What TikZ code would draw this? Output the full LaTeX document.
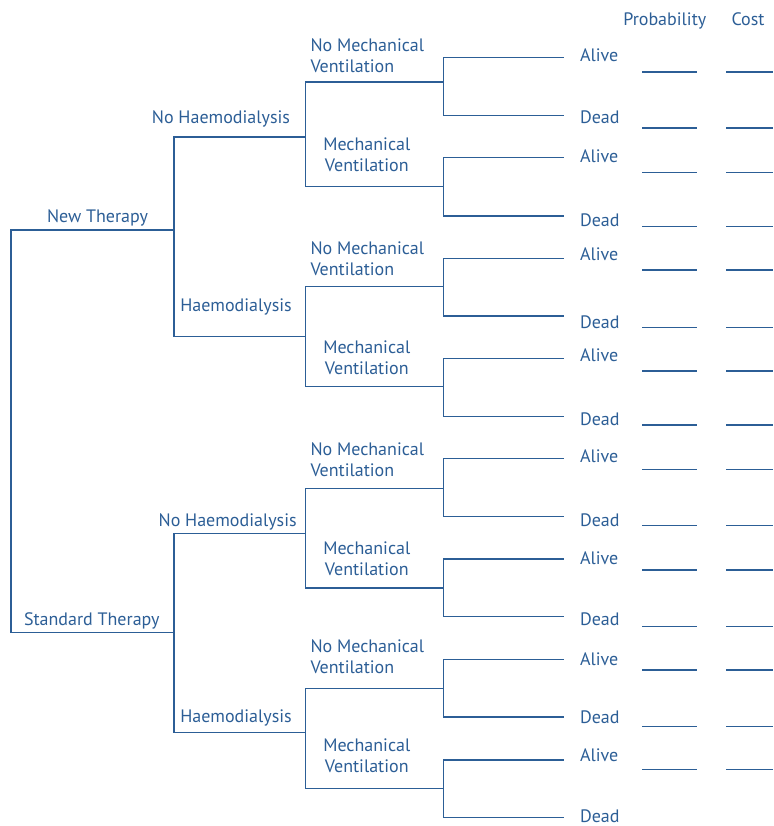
\documentclass[tikz,border=0pt]{standalone}
\usepackage{fontspec}
\setmainfont{PT Sans}
\definecolor{treeblue}{RGB}{44,94,150}
\begin{document}
\begin{tikzpicture}[x=1pt,y=-1pt,
  branch/.style={draw=treeblue,line width=1.4pt,line cap=rect},
  blank/.style={draw=treeblue,line width=1.4pt},
  lbl/.style={text=treeblue,font=\fontsize{18}{21}\selectfont,inner sep=0pt,outer sep=0pt}]
\useasboundingbox (0,0) rectangle (773,826);

% ---- root split: therapy choice ----
\coordinate (root-t) at (11,230);
\coordinate (root-b) at (11,632.5);
\coordinate (nt) at (174,230);
\coordinate (st) at (174,632.5);
\draw[branch] (nt) -- (root-t) -- (root-b) -- (st);
\node[lbl,anchor=base west] (ntlbl) at (47,222.3) {New Therapy};
\node[lbl,anchor=base west] (stlbl) at (24,625) {Standard Therapy};

% ---- haemodialysis splits ----
\foreach \t/\up/\dn in {nt/137/336.7, st/533.3/732.7}{
  \coordinate (\t-up) at (174,\up);
  \coordinate (\t-dn) at (174,\dn);
  \coordinate (\t-noh) at (305.5,\up);
  \coordinate (\t-h) at (305.5,\dn);
  \draw[branch] (\t-up) -- (\t-dn);
  \draw[branch] (\t-up) -- (\t-noh);
  \draw[branch] (\t-dn) -- (\t-h);
}
\node[lbl,anchor=base east] (ntnoh) at (290,123.5) {No Haemodialysis};
\node[lbl,anchor=base west] (nth) at (180.3,311.7) {Haemodialysis};
\node[lbl,anchor=base east] (stnoh) at (296.7,526) {No Haemodialysis};
\node[lbl,anchor=base west] (sth) at (180.3,722.7) {Haemodialysis};

% ---- ventilation splits ----
\foreach \p/\i/\j/\a/\b in {nt-noh/1/2/82/186.5, nt-h/3/4/286.7/386.7,
                           st-noh/5/6/488.5/588, st-h/7/8/688.3/788.3}{
  \coordinate (v\i-l) at (305.5,\a);
  \coordinate (v\j-l) at (305.5,\b);
  \coordinate (v\i) at (443.3,\a);
  \coordinate (v\j) at (443.3,\b);
  \draw[branch] (v\i-l) -- (v\j-l);
  \draw[branch] (v\i-l) -- (v\i);
  \draw[branch] (v\j-l) -- (v\j);
}
\foreach \i/\top in {1/38.3, 3/241.5, 5/442.5, 7/639.8}{
  \node[lbl,anchor=north west,align=left] (vl\i) at (310.5,\top)
    {No Mechanical\\Ventilation};
}
\foreach \i/\top in {2/137.5, 4/340.5, 6/541.5, 8/738.5}{
  \node[lbl,anchor=north,align=center] (vl\i) at (366.8,\top)
    {Mechanical\\Ventilation};
}

% ---- outcome branches ----
\foreach \i/\a/\d/\ab/\db in {1/57.3/115.7/61.7/123.3, 2/157.3/216/162.3/226.7,
    3/258.3/316/260/328, 4/358.3/416.5/361.7/425, 5/458.3/516.7/462.3/526.7,
    6/559/616.7/564/625, 7/659.3/717/665/723.3, 8/760/817.5/761.7/822.8}{
  \coordinate (v\i-a) at (443.3,\a);
  \coordinate (v\i-d) at (443.3,\d);
  \coordinate (o\i-a) at (563,\a);
  \coordinate (o\i-d) at (563,\d);
  \draw[branch] (v\i-a) -- (v\i-d);
  \draw[branch] (v\i-a) -- (o\i-a);
  \draw[branch] (v\i-d) -- (o\i-d);
  \node[lbl,anchor=base west] (alive\i) at (580,\ab) {Alive};
  \node[lbl,anchor=base west] (dead\i) at (580,\db) {Dead};
}

% ---- probability and cost columns ----
\node[lbl,anchor=base west] (probhead) at (623.3,25.7) {Probability};
\node[lbl,anchor=base west] (costhead) at (731.5,25.7) {Cost};
\foreach \y in {72,128,172.7,226.7,270,327.7,371,425,469.3,525.7,570,626.7,670,726.7,769.5}{
  \draw[blank] (642,\y) -- (697,\y);
  \draw[blank] (726,\y) -- (773,\y);
}
\end{tikzpicture}
\end{document}
